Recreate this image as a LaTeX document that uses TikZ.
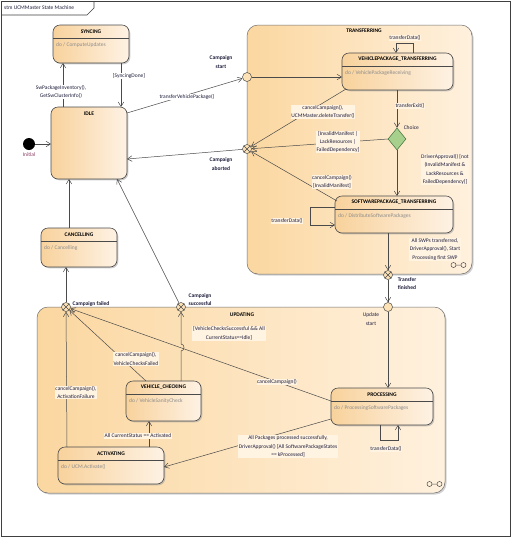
\documentclass[tikz,border=0pt]{standalone}
\usepackage{fontspec}
\setmainfont{Carlito}
\usetikzlibrary{arrows.meta,shapes.geometric,shadows,calc}
\definecolor{stL}{HTML}{F8D29C}
\definecolor{stR}{HTML}{FEF2E4}
\definecolor{cpL}{HTML}{FBD7A0}
\definecolor{cpR}{HTML}{FFF1DE}
\definecolor{edge}{HTML}{4A4A4A}
\definecolor{txt}{HTML}{1E1E3C}
\definecolor{dotxt}{HTML}{8C8C8C}
\definecolor{labbg}{HTML}{FFF3E2}
\definecolor{choiceG}{HTML}{A8D08D}
\definecolor{pseudo}{HTML}{FDE2B6}
\definecolor{initc}{HTML}{8B3A62}
\newcommand\labfont{\fontsize{5.5}{8.3}\selectfont}
\newcommand\mkstate[7]{%
  \node[state, minimum width={(#4-#2)*1pt}, minimum height={(#5-#3)*1pt}] (#1) at (#2,#3) {};
  \draw[divline] (#2,{#3+13}) -- (#4,{#3+13});
  \node[sttitle] (#1-t) at ({(#2+#4)/2},{#3+6.5}) {#6};
  \node[dotext] (#1-d) at ({#2+3},{#3+20}) {#7};
}
\begin{document}
\begin{tikzpicture}[x=1pt,y=-1pt,
  state/.style={draw=edge, line width=0.6pt, rounded corners=7pt, left color=stL, right color=stR,
    drop shadow={shadow xshift=1.3pt, shadow yshift=-1.3pt, fill=black!40}, inner sep=0, outer sep=0, anchor=north west},
  composite/.style={draw=edge!80, line width=0.5pt, rounded corners=11pt, left color=cpL, right color=cpR,
    drop shadow={shadow xshift=1.5pt, shadow yshift=-1.5pt, fill=black!35}, inner sep=0, outer sep=0, anchor=north west},
  divline/.style={draw=edge, line width=0.6pt},
  sttitle/.style={font=\labfont\bfseries, text=black, inner sep=0},
  ctitle/.style={font=\labfont\bfseries, text=black, inner sep=0},
  dotext/.style={font=\labfont, text=dotxt, anchor=west, inner sep=0},
  lab/.style={font=\labfont, text=txt, align=center, inner sep=0.6pt, fill=labbg},
  labw/.style={lab, fill=white},
  blab/.style={font=\labfont\bfseries, text=txt, align=center, inner sep=0.5pt},
  conn/.style={draw=edge, line width=0.5pt, -{Straight Barb[length=4.5pt,width=5.5pt,line width=0.5pt]}},
  plain/.style={draw=edge, line width=0.5pt},
  frame/.style={draw=black!75, line width=0.7pt},
  initial/.style={circle, fill=black, minimum size=12pt, inner sep=0},
  entry/.style={circle, draw=edge, line width=0.5pt, fill=pseudo, minimum size=9pt, inner sep=0},
  exitp/.style={entry, path picture={\draw[edge, line width=0.5pt]
     (path picture bounding box.north west) -- (path picture bounding box.south east)
     (path picture bounding box.north east) -- (path picture bounding box.south west);}},
  choicest/.style={diamond, draw=edge!80!green, line width=0.5pt, fill=choiceG, minimum width=18pt, minimum height=22pt, inner sep=0}
]
\fill[white] (0,0) rectangle (516,539);
\useasboundingbox (0,0) rectangle (516,539);
% frame
\draw[frame] (1,1) rectangle (510.5,536);
\draw[frame] (1,15) -- (87,15) -- (94,8) -- (94,1);
\node[anchor=west, font=\labfont, text=txt, inner sep=0] (ftitle) at (4,8) {stm UCMMaster State Machine};

% composites
\node[composite, minimum width=225pt, minimum height=249pt] (TRANS) at (247,25) {};
\node[composite, minimum width=408pt, minimum height=186pt] (UPD) at (37,307) {};
\draw[plain] (453.5,265) circle[radius=2.5pt] (463.5,265) circle[radius=2.5pt] (456,265) -- (461,265);
\draw[plain] (429.5,484) circle[radius=2.5pt] (439.5,484) circle[radius=2.5pt] (432,484) -- (437,484);

% states
\mkstate{SYNC}{53}{25}{129}{63}{SYNCING}{do / ComputeUpdates}
\node[state, minimum width=76pt, minimum height=72pt] (IDLE) at (51,107) {};
\node[sttitle] (IDLE-t) at (89,113.5) {IDLE};
\mkstate{CANC}{41}{228}{117}{267}{CANCELLING}{do / Cancelling}
\mkstate{VPT}{342}{53}{453}{90}{VEHICLEPACKAGE\_TRANSFERRING}{do / VehiclePackageReceiving}
\mkstate{SPT}{335}{196}{453}{233}{SOFTWAREPACKAGE\_TRANSFERRING}{do / DistributeSoftwarePackages}
\mkstate{VC}{126}{381}{201}{421}{VEHICLE\_CHECKING}{do / VehicleSanityCheck}
\mkstate{ACT}{58}{447}{164}{484}{ACTIVATING}{do / UCM.Activate()}
\mkstate{PROC}{331}{388}{433}{425}{PROCESSING}{do / ProcessingSoftwarePackages}

% pseudostates
\node[initial] (init) at (29,144) {};
\node[entry] (cstart) at (247,77) {};
\node[exitp] (cabort) at (247,149) {};
\node[choicest] (choice) at (397,139) {};
\node[exitp] (tfin) at (388,275) {};
\node[entry] (ustart) at (388,307) {};
\node[exitp] (cfail) at (66,307) {};
\node[exitp] (csucc) at (181,307) {};
\coordinate (hopA) at (181,351);
\coordinate (hopB) at (181,344);

% connectors
\draw[conn] (init) -- (init -| IDLE.west);
\draw[conn] ($(IDLE.north west)+(12,0)$) -- ($(SYNC.south west)+(10,0)$);
\draw[conn] ($(SYNC.south west)+(68,0)$) -- ($(IDLE.north west)+(70,0)$);
\draw[conn] ($(IDLE.north east)+(0,6)$) -- (cstart);
\draw[conn] (cabort) -- ($(IDLE.north east)+(0,52)$);
\draw[conn] (cstart) -- (cstart -| VPT.west);
\draw[conn] ($(VPT.north west)+(71,0)$) -- ++(0,-10) -| ($(VPT.north west)+(54,0)$);
\draw[conn] (choice.north |- VPT.south) -- (choice.north);
\draw[conn] ($(VPT.south west)+(4,-1)$) -- (cabort);
\draw[conn] (choice.west) -- (cabort);
\draw[conn] ($(SPT.north west)+(2,5)$) -- (cabort);
\draw[conn] (choice.south) -- (choice.south |- SPT.north);
\draw[conn] ($(SPT.north west)+(0,11)$) -- ++(-25,0) |- ($(SPT.north west)+(0,29)$);
\draw[conn] (tfin |- SPT.south) -- (tfin);
\draw[conn] (tfin) -- (ustart);
\draw[conn] (ustart) -- (ustart |- PROC.north);
\draw[conn] ($(PROC.south west)+(49,0)$) -- ++(0,15) -| ($(PROC.south west)+(67,0)$);
\draw[conn] ($(PROC.south west)+(0,-6)$) -- ($(ACT.north east)+(0,20)$);
\draw[conn] ($(PROC.north west)+(0,13)$) -- (cfail);
\draw[conn] ($(ACT.north west)+(9,0)$) -- (cfail);
\draw[conn] ($(ACT.north west)+(91,0)$) -- ($(VC.south west)+(23,0)$);
\draw[conn] ($(VC.north west)+(55,0)$) -- (hopA) .. controls ($(hopA)+(4,0)$) and ($(hopB)+(4,0)$) .. (hopB) -- (csucc);
\draw[conn] ($(VC.north west)+(20,0)$) -- (cfail);
\draw[conn] (cfail) -- (cfail |- CANC.south);
\draw[conn] ($(CANC.north west)+(28,0)$) -- ($(IDLE.south west)+(18,0)$);
\draw[conn] (csucc) -- ($(IDLE.south east)+(-10,0)$);

% labels
\node[labw] (l1) at (61,92) {SwPackageInventory(),\\GetSwClusterInfo()};
\node[labw] (l2) at (129,76) {[SyncingDone]};
\node[labw] (l3) at (187,97) {transferVehiclePackage()};
\node[blab] (l4) at (221,62) {Campaign\\start};
\node[blab] (l5) at (221,164) {Campaign\\aborted};
\node[ctitle] (l6) at (364,31) {TRANSFERRING};
\node[lab] (l7) at (405,38) {transferData()};
\node[lab, fill=none, anchor=west] (l8) at (403,128) {Choice};
\node[lab] (l9) at (410,106) {transferExit()};
\node[lab] (l10) at (323,112) {cancelCampaign(),\\UCMMaster.deleteTransfer()};
\node[lab] (l11) at (338,142) {[InvalidManifest |\\LackResources |\\FailedDependency]};
\node[lab] (l12) at (332,182) {cancelCampaign()\\{}[InvalidManifest]};
\node[lab] (l13) at (445,169.5) {DriverApproval() [not\\(InvalidManifest \&\\LackResources \&\\FailedDependency)]};
\node[lab] (l14) at (287,221) {transferData()};
\node[lab] (l15) at (435,249.5) {All SWPs transferred,\\DriverApproval(), Start\\Processing first SWP};
\node[blab] (l16) at (407,283.5) {Transfer\\finished};
\node[lab, fill=none] (l17) at (371,319) {Update\\start};
\node[ctitle] (l18) at (242,315) {UPDATING};
\node[lab] (l19) at (229,333.5) {[VehicleChecksSuccessful \&\& All\\CurrentStatus==Idle]};
\node[lab] (l20) at (136,359) {cancelCampaign(),\\VehicleChecksFailed};
\node[lab] (l21) at (277,382) {cancelCampaign()};
\node[lab] (l22) at (76,392.5) {cancelCampaign(),\\ActivationFailure};
\node[lab] (l23) at (138,436) {All CurrentStatus == Activated};
\node[lab] (l24) at (288,446.5) {All Packages processed successfully,\\DriverApproval() [All SoftwarePackageStates\\== kProcessed]};
\node[lab] (l25) at (386,449) {transferData()};
\node[blab, anchor=west] (l26) at (72,304) {Campaign failed};
\node[blab, anchor=west, align=left] (l27) at (188,299.5) {Campaign\\successful};
\node[font=\labfont, text=initc, inner sep=0] (l28) at (29,155) {Initial};
\end{tikzpicture}
\end{document}
